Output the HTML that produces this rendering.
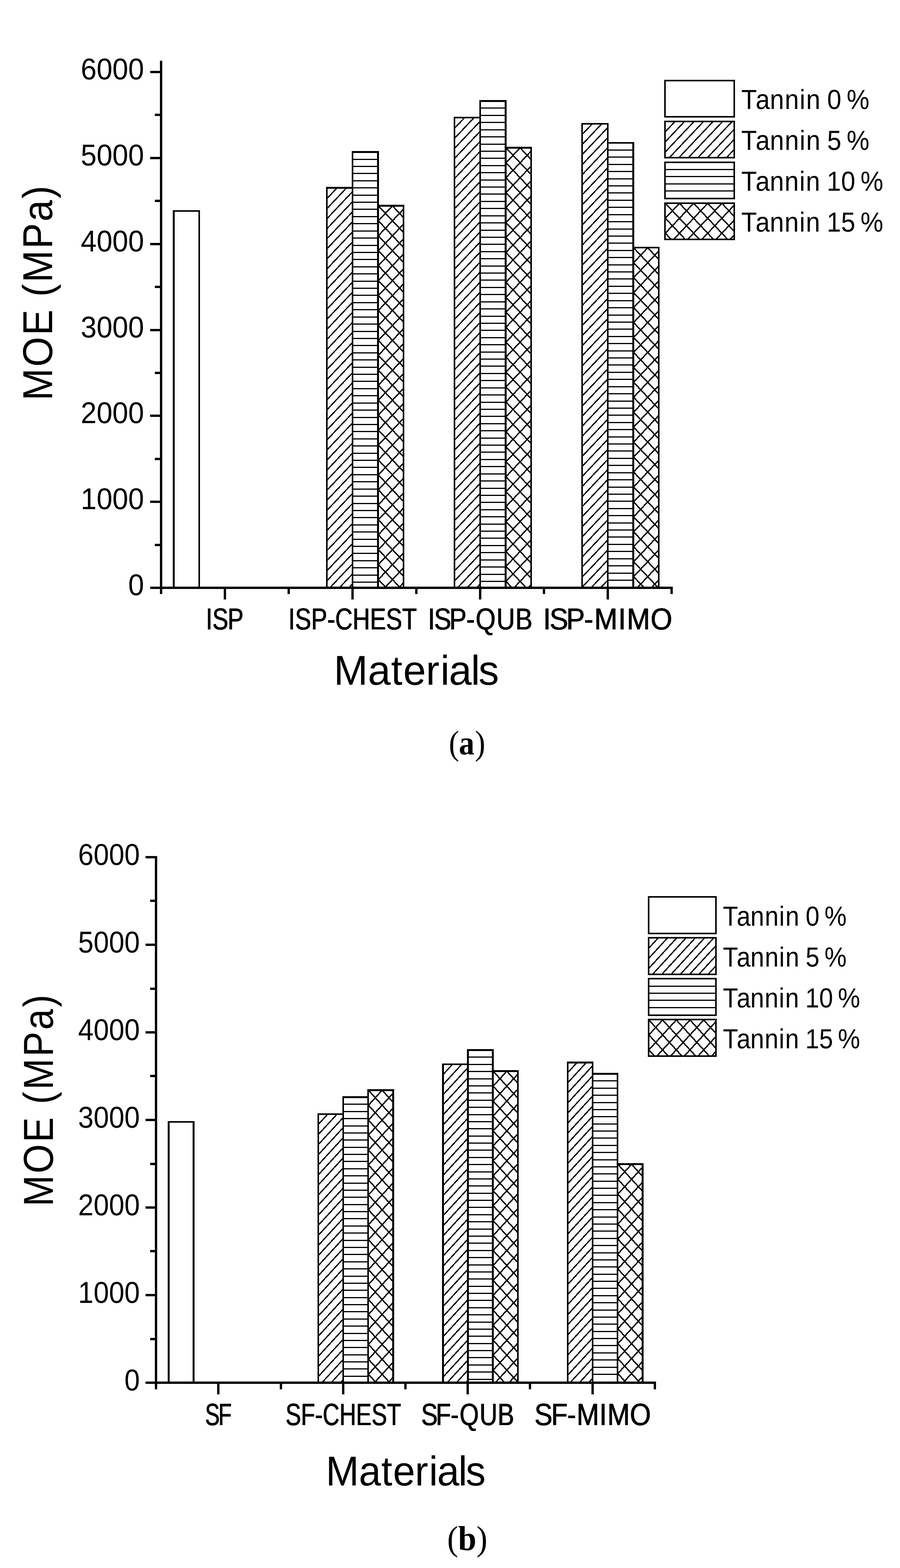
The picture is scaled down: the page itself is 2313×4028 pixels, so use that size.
<!DOCTYPE html>
<html lang="en">
<head>
<meta charset="utf-8">
<title>MOE of tannin-modified adhesives</title>
<style>
html,body{margin:0;padding:0;background:#fff}
svg{display:block}
text{white-space:pre}
</style>
</head>
<body>
<svg width="2313" height="4028" viewBox="0 0 2313 4028" text-rendering="geometricPrecision">
<rect width="2313" height="4028" fill="#fff"/>
<g fill="none" stroke="#000" stroke-linejoin="miter" shape-rendering="crispEdges">
<rect x="446.6" y="541.9" width="65.6" height="968.1" stroke-width="4.5"/>
<path d="M840.2 484.29L841.7 482.7M840.2 510.13L866.15 482.7M840.2 535.97L890.6 482.7M840.2 561.81L905.8 492.48M840.2 587.65L905.8 518.32M840.2 613.49L905.8 544.16M840.2 639.33L905.8 570M840.2 665.17L905.8 595.84M840.2 691.01L905.8 621.68M840.2 716.85L905.8 647.52M840.2 742.69L905.8 673.36M840.2 768.53L905.8 699.2M840.2 794.37L905.8 725.04M840.2 820.21L905.8 750.88M840.2 846.05L905.8 776.72M840.2 871.89L905.8 802.56M840.2 897.73L905.8 828.4M840.2 923.57L905.8 854.24M840.2 949.41L905.8 880.08M840.2 975.25L905.8 905.92M840.2 1001.09L905.8 931.76M840.2 1026.93L905.8 957.6M840.2 1052.77L905.8 983.44M840.2 1078.61L905.8 1009.28M840.2 1104.45L905.8 1035.12M840.2 1130.29L905.8 1060.96M840.2 1156.13L905.8 1086.8M840.2 1181.97L905.8 1112.64M840.2 1207.81L905.8 1138.48M840.2 1233.65L905.8 1164.32M840.2 1259.49L905.8 1190.16M840.2 1285.33L905.8 1216M840.2 1311.17L905.8 1241.84M840.2 1337.01L905.8 1267.68M840.2 1362.85L905.8 1293.52M840.2 1388.69L905.8 1319.36M840.2 1414.53L905.8 1345.2M840.2 1440.37L905.8 1371.04M840.2 1466.21L905.8 1396.88M840.2 1492.05L905.8 1422.72M847.66 1510L905.8 1448.56M872.11 1510L905.8 1474.4M896.56 1510L905.8 1500.24" stroke-width="3.3"/>
<rect x="840.2" y="482.7" width="65.6" height="1027.3" stroke-width="4.5"/>
<path d="M905.8 409.02L971.4 409.02M905.8 427.43L971.4 427.43M905.8 445.85L971.4 445.85M905.8 464.27L971.4 464.27M905.8 482.69L971.4 482.69M905.8 501.1L971.4 501.1M905.8 519.52L971.4 519.52M905.8 537.94L971.4 537.94M905.8 556.35L971.4 556.35M905.8 574.77L971.4 574.77M905.8 593.19L971.4 593.19M905.8 611.6L971.4 611.6M905.8 630.02L971.4 630.02M905.8 648.44L971.4 648.44M905.8 666.86L971.4 666.86M905.8 685.27L971.4 685.27M905.8 703.69L971.4 703.69M905.8 722.11L971.4 722.11M905.8 740.52L971.4 740.52M905.8 758.94L971.4 758.94M905.8 777.36L971.4 777.36M905.8 795.77L971.4 795.77M905.8 814.19L971.4 814.19M905.8 832.61L971.4 832.61M905.8 851.03L971.4 851.03M905.8 869.44L971.4 869.44M905.8 887.86L971.4 887.86M905.8 906.28L971.4 906.28M905.8 924.69L971.4 924.69M905.8 943.11L971.4 943.11M905.8 961.53L971.4 961.53M905.8 979.94L971.4 979.94M905.8 998.36L971.4 998.36M905.8 1016.78L971.4 1016.78M905.8 1035.2L971.4 1035.2M905.8 1053.61L971.4 1053.61M905.8 1072.03L971.4 1072.03M905.8 1090.45L971.4 1090.45M905.8 1108.86L971.4 1108.86M905.8 1127.28L971.4 1127.28M905.8 1145.7L971.4 1145.7M905.8 1164.11L971.4 1164.11M905.8 1182.53L971.4 1182.53M905.8 1200.95L971.4 1200.95M905.8 1219.37L971.4 1219.37M905.8 1237.78L971.4 1237.78M905.8 1256.2L971.4 1256.2M905.8 1274.62L971.4 1274.62M905.8 1293.03L971.4 1293.03M905.8 1311.45L971.4 1311.45M905.8 1329.87L971.4 1329.87M905.8 1348.28L971.4 1348.28M905.8 1366.7L971.4 1366.7M905.8 1385.12L971.4 1385.12M905.8 1403.53L971.4 1403.53M905.8 1421.95L971.4 1421.95M905.8 1440.37L971.4 1440.37M905.8 1458.79L971.4 1458.79M905.8 1477.2L971.4 1477.2M905.8 1495.62L971.4 1495.62" stroke-width="3"/>
<rect x="905.8" y="390.7" width="65.6" height="1119.3" stroke-width="4.5"/>
<path d="M971.4 1487.8L992.39 1510M971.4 1449.4L1028.69 1510M971.4 1411L1037 1480.39M971.4 1372.6L1037 1441.99M971.4 1334.2L1037 1403.59M971.4 1295.8L1037 1365.19M971.4 1257.4L1037 1326.79M971.4 1219L1037 1288.39M971.4 1180.6L1037 1249.99M971.4 1142.2L1037 1211.59M971.4 1103.8L1037 1173.19M971.4 1065.4L1037 1134.79M971.4 1027L1037 1096.39M971.4 988.6L1037 1057.99M971.4 950.2L1037 1019.59M971.4 911.8L1037 981.19M971.4 873.4L1037 942.79M971.4 835L1037 904.39M971.4 796.6L1037 865.99M971.4 758.2L1037 827.59M971.4 719.8L1037 789.19M971.4 681.4L1037 750.79M971.4 643L1037 712.39M971.4 604.6L1037 673.99M971.4 566.2L1037 635.59M971.4 529.8L972.63 528.5M972.07 528.5L1037 597.19M971.4 568.2L1008.93 528.5M1008.37 528.5L1037 558.79M971.4 606.6L1037 537.21M971.4 645L1037 575.61M971.4 683.4L1037 614.01M971.4 721.8L1037 652.41M971.4 760.2L1037 690.81M971.4 798.6L1037 729.21M971.4 837L1037 767.61M971.4 875.4L1037 806.01M971.4 913.8L1037 844.41M971.4 952.2L1037 882.81M971.4 990.6L1037 921.21M971.4 1029L1037 959.61M971.4 1067.4L1037 998.01M971.4 1105.8L1037 1036.41M971.4 1144.2L1037 1074.81M971.4 1182.6L1037 1113.21M971.4 1221L1037 1151.61M971.4 1259.4L1037 1190.01M971.4 1297.8L1037 1228.41M971.4 1336.2L1037 1266.81M971.4 1374.6L1037 1305.21M971.4 1413L1037 1343.61M971.4 1451.4L1037 1382.01M971.4 1489.8L1037 1420.41M988.61 1510L1037 1458.81M1024.91 1510L1037 1497.21" stroke-width="3.5"/>
<rect x="971.4" y="528.5" width="65.6" height="981.5" stroke-width="4.5"/>
<path d="M1168.2 303.59L1169.7 302M1168.2 329.43L1194.15 302M1168.2 355.27L1218.6 302M1168.2 381.11L1233.8 311.78M1168.2 406.95L1233.8 337.62M1168.2 432.79L1233.8 363.46M1168.2 458.63L1233.8 389.3M1168.2 484.47L1233.8 415.14M1168.2 510.31L1233.8 440.98M1168.2 536.15L1233.8 466.82M1168.2 561.99L1233.8 492.66M1168.2 587.83L1233.8 518.5M1168.2 613.67L1233.8 544.34M1168.2 639.51L1233.8 570.18M1168.2 665.35L1233.8 596.02M1168.2 691.19L1233.8 621.86M1168.2 717.03L1233.8 647.7M1168.2 742.87L1233.8 673.54M1168.2 768.71L1233.8 699.38M1168.2 794.55L1233.8 725.22M1168.2 820.39L1233.8 751.06M1168.2 846.23L1233.8 776.9M1168.2 872.07L1233.8 802.74M1168.2 897.91L1233.8 828.58M1168.2 923.75L1233.8 854.42M1168.2 949.59L1233.8 880.26M1168.2 975.43L1233.8 906.1M1168.2 1001.27L1233.8 931.94M1168.2 1027.11L1233.8 957.78M1168.2 1052.95L1233.8 983.62M1168.2 1078.79L1233.8 1009.46M1168.2 1104.63L1233.8 1035.3M1168.2 1130.47L1233.8 1061.14M1168.2 1156.31L1233.8 1086.98M1168.2 1182.15L1233.8 1112.82M1168.2 1207.99L1233.8 1138.66M1168.2 1233.83L1233.8 1164.5M1168.2 1259.67L1233.8 1190.34M1168.2 1285.51L1233.8 1216.18M1168.2 1311.35L1233.8 1242.02M1168.2 1337.19L1233.8 1267.86M1168.2 1363.03L1233.8 1293.7M1168.2 1388.87L1233.8 1319.54M1168.2 1414.71L1233.8 1345.38M1168.2 1440.55L1233.8 1371.22M1168.2 1466.39L1233.8 1397.06M1168.2 1492.23L1233.8 1422.9M1175.83 1510L1233.8 1448.74M1200.28 1510L1233.8 1474.58M1224.73 1510L1233.8 1500.42" stroke-width="3.3"/>
<rect x="1168.2" y="302" width="65.6" height="1208" stroke-width="4.5"/>
<path d="M1233.8 277.92L1299.4 277.92M1233.8 296.33L1299.4 296.33M1233.8 314.75L1299.4 314.75M1233.8 333.17L1299.4 333.17M1233.8 351.59L1299.4 351.59M1233.8 370L1299.4 370M1233.8 388.42L1299.4 388.42M1233.8 406.84L1299.4 406.84M1233.8 425.25L1299.4 425.25M1233.8 443.67L1299.4 443.67M1233.8 462.09L1299.4 462.09M1233.8 480.5L1299.4 480.5M1233.8 498.92L1299.4 498.92M1233.8 517.34L1299.4 517.34M1233.8 535.76L1299.4 535.76M1233.8 554.17L1299.4 554.17M1233.8 572.59L1299.4 572.59M1233.8 591.01L1299.4 591.01M1233.8 609.42L1299.4 609.42M1233.8 627.84L1299.4 627.84M1233.8 646.26L1299.4 646.26M1233.8 664.67L1299.4 664.67M1233.8 683.09L1299.4 683.09M1233.8 701.51L1299.4 701.51M1233.8 719.93L1299.4 719.93M1233.8 738.34L1299.4 738.34M1233.8 756.76L1299.4 756.76M1233.8 775.18L1299.4 775.18M1233.8 793.59L1299.4 793.59M1233.8 812.01L1299.4 812.01M1233.8 830.43L1299.4 830.43M1233.8 848.84L1299.4 848.84M1233.8 867.26L1299.4 867.26M1233.8 885.68L1299.4 885.68M1233.8 904.1L1299.4 904.1M1233.8 922.51L1299.4 922.51M1233.8 940.93L1299.4 940.93M1233.8 959.35L1299.4 959.35M1233.8 977.76L1299.4 977.76M1233.8 996.18L1299.4 996.18M1233.8 1014.6L1299.4 1014.6M1233.8 1033.01L1299.4 1033.01M1233.8 1051.43L1299.4 1051.43M1233.8 1069.85L1299.4 1069.85M1233.8 1088.27L1299.4 1088.27M1233.8 1106.68L1299.4 1106.68M1233.8 1125.1L1299.4 1125.1M1233.8 1143.52L1299.4 1143.52M1233.8 1161.93L1299.4 1161.93M1233.8 1180.35L1299.4 1180.35M1233.8 1198.77L1299.4 1198.77M1233.8 1217.18L1299.4 1217.18M1233.8 1235.6L1299.4 1235.6M1233.8 1254.02L1299.4 1254.02M1233.8 1272.44L1299.4 1272.44M1233.8 1290.85L1299.4 1290.85M1233.8 1309.27L1299.4 1309.27M1233.8 1327.69L1299.4 1327.69M1233.8 1346.1L1299.4 1346.1M1233.8 1364.52L1299.4 1364.52M1233.8 1382.94L1299.4 1382.94M1233.8 1401.35L1299.4 1401.35M1233.8 1419.77L1299.4 1419.77M1233.8 1438.19L1299.4 1438.19M1233.8 1456.6L1299.4 1456.6M1233.8 1475.02L1299.4 1475.02M1233.8 1493.44L1299.4 1493.44" stroke-width="3"/>
<rect x="1233.8" y="259.6" width="65.6" height="1250.4" stroke-width="4.5"/>
<path d="M1299.4 1492.4L1316.04 1510M1299.4 1454L1352.34 1510M1299.4 1415.6L1365 1484.99M1299.4 1377.2L1365 1446.59M1299.4 1338.8L1365 1408.19M1299.4 1300.4L1365 1369.79M1299.4 1262L1365 1331.39M1299.4 1223.6L1365 1292.99M1299.4 1185.2L1365 1254.59M1299.4 1146.8L1365 1216.19M1299.4 1108.4L1365 1177.79M1299.4 1070L1365 1139.39M1299.4 1031.6L1365 1100.99M1299.4 993.2L1365 1062.59M1299.4 954.8L1365 1024.19M1299.4 916.4L1365 985.79M1299.4 878L1365 947.39M1299.4 839.6L1365 908.99M1299.4 801.2L1365 870.59M1299.4 762.8L1365 832.19M1299.4 724.4L1365 793.79M1299.4 686L1365 755.39M1299.4 647.6L1365 716.99M1299.4 609.2L1365 678.59M1299.4 570.8L1365 640.19M1299.4 532.4L1365 601.79M1299.4 494L1365 563.39M1299.4 455.6L1365 524.99M1299.4 417.2L1365 486.59M1299.4 380.8L1300.63 379.5M1300.07 379.5L1365 448.19M1299.4 419.2L1336.93 379.5M1336.37 379.5L1365 409.79M1299.4 457.6L1365 388.21M1299.4 496L1365 426.61M1299.4 534.4L1365 465.01M1299.4 572.8L1365 503.41M1299.4 611.2L1365 541.81M1299.4 649.6L1365 580.21M1299.4 688L1365 618.61M1299.4 726.4L1365 657.01M1299.4 764.8L1365 695.41M1299.4 803.2L1365 733.81M1299.4 841.6L1365 772.21M1299.4 880L1365 810.61M1299.4 918.4L1365 849.01M1299.4 956.8L1365 887.41M1299.4 995.2L1365 925.81M1299.4 1033.6L1365 964.21M1299.4 1072L1365 1002.61M1299.4 1110.4L1365 1041.01M1299.4 1148.8L1365 1079.41M1299.4 1187.2L1365 1117.81M1299.4 1225.6L1365 1156.21M1299.4 1264L1365 1194.61M1299.4 1302.4L1365 1233.01M1299.4 1340.8L1365 1271.41M1299.4 1379.2L1365 1309.81M1299.4 1417.6L1365 1348.21M1299.4 1456L1365 1386.61M1299.4 1494.4L1365 1425.01M1320.96 1510L1365 1463.41M1357.26 1510L1365 1501.81" stroke-width="3.5"/>
<rect x="1299.4" y="379.5" width="65.6" height="1130.5" stroke-width="4.5"/>
<path d="M1496.2 319.59L1497.7 318M1496.2 345.43L1522.15 318M1496.2 371.27L1546.6 318M1496.2 397.11L1561.8 327.78M1496.2 422.95L1561.8 353.62M1496.2 448.79L1561.8 379.46M1496.2 474.63L1561.8 405.3M1496.2 500.47L1561.8 431.14M1496.2 526.31L1561.8 456.98M1496.2 552.15L1561.8 482.82M1496.2 577.99L1561.8 508.66M1496.2 603.83L1561.8 534.5M1496.2 629.67L1561.8 560.34M1496.2 655.51L1561.8 586.18M1496.2 681.35L1561.8 612.02M1496.2 707.19L1561.8 637.86M1496.2 733.03L1561.8 663.7M1496.2 758.87L1561.8 689.54M1496.2 784.71L1561.8 715.38M1496.2 810.55L1561.8 741.22M1496.2 836.39L1561.8 767.06M1496.2 862.23L1561.8 792.9M1496.2 888.07L1561.8 818.74M1496.2 913.91L1561.8 844.58M1496.2 939.75L1561.8 870.42M1496.2 965.59L1561.8 896.26M1496.2 991.43L1561.8 922.1M1496.2 1017.27L1561.8 947.94M1496.2 1043.11L1561.8 973.78M1496.2 1068.95L1561.8 999.62M1496.2 1094.79L1561.8 1025.46M1496.2 1120.63L1561.8 1051.3M1496.2 1146.47L1561.8 1077.14M1496.2 1172.31L1561.8 1102.98M1496.2 1198.15L1561.8 1128.82M1496.2 1223.99L1561.8 1154.66M1496.2 1249.83L1561.8 1180.5M1496.2 1275.67L1561.8 1206.34M1496.2 1301.51L1561.8 1232.18M1496.2 1327.35L1561.8 1258.02M1496.2 1353.19L1561.8 1283.86M1496.2 1379.03L1561.8 1309.7M1496.2 1404.87L1561.8 1335.54M1496.2 1430.71L1561.8 1361.38M1496.2 1456.55L1561.8 1387.22M1496.2 1482.39L1561.8 1413.06M1496.2 1508.23L1561.8 1438.9M1518.97 1510L1561.8 1464.74M1543.42 1510L1561.8 1490.58" stroke-width="3.3"/>
<rect x="1496.2" y="318" width="65.6" height="1192" stroke-width="4.5"/>
<path d="M1561.8 385.42L1627.4 385.42M1561.8 403.83L1627.4 403.83M1561.8 422.25L1627.4 422.25M1561.8 440.67L1627.4 440.67M1561.8 459.09L1627.4 459.09M1561.8 477.5L1627.4 477.5M1561.8 495.92L1627.4 495.92M1561.8 514.34L1627.4 514.34M1561.8 532.75L1627.4 532.75M1561.8 551.17L1627.4 551.17M1561.8 569.59L1627.4 569.59M1561.8 588L1627.4 588M1561.8 606.42L1627.4 606.42M1561.8 624.84L1627.4 624.84M1561.8 643.26L1627.4 643.26M1561.8 661.67L1627.4 661.67M1561.8 680.09L1627.4 680.09M1561.8 698.51L1627.4 698.51M1561.8 716.92L1627.4 716.92M1561.8 735.34L1627.4 735.34M1561.8 753.76L1627.4 753.76M1561.8 772.17L1627.4 772.17M1561.8 790.59L1627.4 790.59M1561.8 809.01L1627.4 809.01M1561.8 827.43L1627.4 827.43M1561.8 845.84L1627.4 845.84M1561.8 864.26L1627.4 864.26M1561.8 882.68L1627.4 882.68M1561.8 901.09L1627.4 901.09M1561.8 919.51L1627.4 919.51M1561.8 937.93L1627.4 937.93M1561.8 956.34L1627.4 956.34M1561.8 974.76L1627.4 974.76M1561.8 993.18L1627.4 993.18M1561.8 1011.6L1627.4 1011.6M1561.8 1030.01L1627.4 1030.01M1561.8 1048.43L1627.4 1048.43M1561.8 1066.85L1627.4 1066.85M1561.8 1085.26L1627.4 1085.26M1561.8 1103.68L1627.4 1103.68M1561.8 1122.1L1627.4 1122.1M1561.8 1140.51L1627.4 1140.51M1561.8 1158.93L1627.4 1158.93M1561.8 1177.35L1627.4 1177.35M1561.8 1195.77L1627.4 1195.77M1561.8 1214.18L1627.4 1214.18M1561.8 1232.6L1627.4 1232.6M1561.8 1251.02L1627.4 1251.02M1561.8 1269.43L1627.4 1269.43M1561.8 1287.85L1627.4 1287.85M1561.8 1306.27L1627.4 1306.27M1561.8 1324.68L1627.4 1324.68M1561.8 1343.1L1627.4 1343.1M1561.8 1361.52L1627.4 1361.52M1561.8 1379.93L1627.4 1379.93M1561.8 1398.35L1627.4 1398.35M1561.8 1416.77L1627.4 1416.77M1561.8 1435.19L1627.4 1435.19M1561.8 1453.6L1627.4 1453.6M1561.8 1472.02L1627.4 1472.02M1561.8 1490.44L1627.4 1490.44" stroke-width="3"/>
<rect x="1561.8" y="367.1" width="65.6" height="1142.9" stroke-width="4.5"/>
<path d="M1627.4 1480.3L1655.48 1510M1627.4 1441.9L1691.78 1510M1627.4 1403.5L1693 1472.89M1627.4 1365.1L1693 1434.49M1627.4 1326.7L1693 1396.09M1627.4 1288.3L1693 1357.69M1627.4 1249.9L1693 1319.29M1627.4 1211.5L1693 1280.89M1627.4 1173.1L1693 1242.49M1627.4 1134.7L1693 1204.09M1627.4 1096.3L1693 1165.69M1627.4 1057.9L1693 1127.29M1627.4 1019.5L1693 1088.89M1627.4 981.1L1693 1050.49M1627.4 942.7L1693 1012.09M1627.4 904.3L1693 973.69M1627.4 865.9L1693 935.29M1627.4 827.5L1693 896.89M1627.4 789.1L1693 858.49M1627.4 750.7L1693 820.09M1627.4 712.3L1693 781.69M1627.4 673.9L1693 743.29M1627.4 637.5L1628.63 636.2M1628.07 636.2L1693 704.89M1627.4 675.9L1664.93 636.2M1664.37 636.2L1693 666.49M1627.4 714.3L1693 644.91M1627.4 752.7L1693 683.31M1627.4 791.1L1693 721.71M1627.4 829.5L1693 760.11M1627.4 867.9L1693 798.51M1627.4 906.3L1693 836.91M1627.4 944.7L1693 875.31M1627.4 983.1L1693 913.71M1627.4 1021.5L1693 952.11M1627.4 1059.9L1693 990.51M1627.4 1098.3L1693 1028.91M1627.4 1136.7L1693 1067.31M1627.4 1175.1L1693 1105.71M1627.4 1213.5L1693 1144.11M1627.4 1251.9L1693 1182.51M1627.4 1290.3L1693 1220.91M1627.4 1328.7L1693 1259.31M1627.4 1367.1L1693 1297.71M1627.4 1405.5L1693 1336.11M1627.4 1443.9L1693 1374.51M1627.4 1482.3L1693 1412.91M1637.52 1510L1693 1451.31M1673.82 1510L1693 1489.71" stroke-width="3.5"/>
<rect x="1627.4" y="636.2" width="65.6" height="873.8" stroke-width="4.5"/>
<rect x="1709" y="207" width="178" height="93" stroke-width="4"/>
<path d="M1709 313.59L1710.5 312M1709 339.43L1734.95 312M1709 365.27L1759.4 312M1709 391.11L1783.85 312M1720.3 405L1808.3 312M1744.75 405L1832.75 312M1769.2 405L1857.2 312M1793.65 405L1881.65 312M1818.1 405L1887 332.19M1842.55 405L1887 358.03M1867 405L1887 383.87" stroke-width="3.3"/>
<rect x="1709" y="312" width="178" height="93" stroke-width="4"/>
<path d="M1709 435.32L1887 435.32M1709 453.73L1887 453.73M1709 472.15L1887 472.15M1709 490.57L1887 490.57" stroke-width="3"/>
<rect x="1709" y="417" width="178" height="93" stroke-width="4"/>
<path d="M1709 598.1L1724.98 615M1709 559.7L1761.28 615M1709 523.3L1710.23 522M1709.67 522L1797.58 615M1709 561.7L1746.53 522M1745.97 522L1833.88 615M1709 600.1L1782.83 522M1782.27 522L1870.18 615M1731.22 615L1819.13 522M1818.57 522L1887 594.39M1767.52 615L1855.43 522M1854.87 522L1887 555.99M1803.82 615L1887 527.01M1840.12 615L1887 565.41M1876.42 615L1887 603.81" stroke-width="3.5"/>
<rect x="1709" y="522" width="178" height="93" stroke-width="4"/>
</g>
<g stroke="#000" stroke-width="6" fill="none" stroke-linecap="butt" shape-rendering="crispEdges">
<path d="M414 156.4V1525.5M386 1510H1729.4M398.4 1400H414M386 1289H414M398.4 1179H414M386 1068H414M398.4 958H414M386 848H414M398.4 737H414M386 627H414M398.4 516H414M386 406H414M398.4 295H414M386 185H414M578 1510V1539.7M742 1510V1525.5M906 1510V1539.7M1070 1510V1525.5M1234 1510V1539.7M1398 1510V1525.5M1562 1510V1539.7M1726 1510V1525.5"/>
</g>
<g fill="#000" font-family='&quot;Liberation Sans&quot;, &quot;DejaVu Sans&quot;, sans-serif'>
<text transform="translate(0 1528.8) scale(0.9443 1)" font-size="77.5" x="348.98">0</text>
<text transform="translate(0 1307.8) scale(0.9443 1)" font-size="77.5" x="219.67 262.77 305.88 348.98">1000</text>
<text transform="translate(0 1086.8) scale(0.9443 1)" font-size="77.5" x="219.67 262.77 305.88 348.98">2000</text>
<text transform="translate(0 866.8) scale(0.9443 1)" font-size="77.5" x="219.67 262.77 305.88 348.98">3000</text>
<text transform="translate(0 645.8) scale(0.9443 1)" font-size="77.5" x="219.67 262.77 305.88 348.98">4000</text>
<text transform="translate(0 424.8) scale(0.9443 1)" font-size="77.5" x="219.67 262.77 305.88 348.98">5000</text>
<text transform="translate(0 203.8) scale(0.9443 1)" font-size="77.5" x="219.67 262.77 305.88 348.98">6000</text>
<text transform="translate(0 1616.5) scale(0.7854 1)" font-size="77.9" style="filter:drop-shadow(0.51px 0 0 #000) drop-shadow(-0.51px 0 0 #000)" x="674.11 695.36 745.34">ISP</text>
<text transform="translate(0 1616.5) scale(0.7973 1)" font-size="77.9" style="filter:drop-shadow(0.5px 0 0 #000) drop-shadow(-0.5px 0 0 #000)" x="930.12 951.67 1003.4 1055.14 1080.97 1136.98 1193 1244.73 1296.47">ISP-CHEST</text>
<text transform="translate(0 1616.5) scale(0.8505 1)" font-size="77.9" style="filter:drop-shadow(0.47px 0 0 #000) drop-shadow(-0.47px 0 0 #000)" x="1293.39 1312.04 1358.38 1409.56 1437.64 1500.47 1557.54">ISP-QUB</text>
<text transform="translate(0 1616.5) scale(0.9185 1)" font-size="77.9" style="filter:drop-shadow(0.44px 0 0 #000) drop-shadow(-0.44px 0 0 #000)" x="1520.16 1538.49 1584.88 1634.71 1663.31 1730.37 1754.59 1820.8">ISP-MIMO</text>
<text transform="translate(0 280) scale(0.9244 1)" font-size="71" x="2060.71 2100.71 2140.29 2181.7 2223.12 2241.2 2281.34 2299.7 2339.11 2354.02">Tannin 0 %</text>
<text transform="translate(0 385) scale(0.9244 1)" font-size="71" x="2060.71 2100.71 2140.29 2181.7 2223.12 2241.2 2281.34 2299.7 2339.11 2354.02">Tannin 5 %</text>
<text transform="translate(0 490) scale(0.9272 1)" font-size="71" x="2054.49 2094.19 2133.48 2174.58 2215.73 2233.64 2273.54 2291.7 2331.35 2370.53 2385.23">Tannin 10 %</text>
<text transform="translate(0 595) scale(0.9272 1)" font-size="71" x="2054.49 2094.19 2133.48 2174.58 2215.73 2233.64 2273.54 2291.7 2331.35 2370.53 2385.23">Tannin 15 %</text>
<text transform="translate(0 1758.6) scale(0.9821 1)" font-size="107.1" x="873.27 962.79 1023.23 1055.12 1114.44 1152.75 1174.73 1232.21 1252.25">Materials</text>
<text transform="translate(134 1020.7) rotate(-90) scale(0.9215 1)" font-size="107.5" x="-8.7 85.08 172.93 245.09 280.33 320.36 414.14 490.07 554.09">MOE (MPa)</text>
</g>
<text transform="translate(0 1938.2) scale(0.9100 1)" font-family='&quot;Liberation Serif&quot;, &quot;DejaVu Serif&quot;, serif' font-size="88" fill="#000" x="1267.69 1295.8 1341.24">(<tspan font-weight="bold">a</tspan>)</text>
<g fill="none" stroke="#000" stroke-linejoin="miter" shape-rendering="crispEdges">
<rect x="433.4" y="2882.1" width="64.1" height="669.9" stroke-width="4.5"/>
<path d="M818 2862.74L818.5 2862.2M818 2888.64L842.3 2862.2M818 2914.54L866.1 2862.2M818 2940.44L882.1 2870.69M818 2966.34L882.1 2896.59M818 2992.24L882.1 2922.49M818 3018.14L882.1 2948.39M818 3044.04L882.1 2974.29M818 3069.94L882.1 3000.19M818 3095.84L882.1 3026.09M818 3121.74L882.1 3051.99M818 3147.64L882.1 3077.89M818 3173.54L882.1 3103.79M818 3199.44L882.1 3129.69M818 3225.34L882.1 3155.59M818 3251.24L882.1 3181.49M818 3277.14L882.1 3207.39M818 3303.04L882.1 3233.29M818 3328.94L882.1 3259.19M818 3354.84L882.1 3285.09M818 3380.74L882.1 3310.99M818 3406.64L882.1 3336.89M818 3432.54L882.1 3362.79M818 3458.44L882.1 3388.69M818 3484.34L882.1 3414.59M818 3510.24L882.1 3440.49M818 3536.14L882.1 3466.39M827.23 3552L882.1 3492.29M851.03 3552L882.1 3518.19M874.83 3552L882.1 3544.09" stroke-width="3.3"/>
<rect x="818" y="2862.2" width="64.1" height="689.8" stroke-width="4.5"/>
<path d="M882.1 2836.88L946.2 2836.88M882.1 2855.26L946.2 2855.26M882.1 2873.64L946.2 2873.64M882.1 2892.02L946.2 2892.02M882.1 2910.4L946.2 2910.4M882.1 2928.78L946.2 2928.78M882.1 2947.16L946.2 2947.16M882.1 2965.54L946.2 2965.54M882.1 2983.92L946.2 2983.92M882.1 3002.3L946.2 3002.3M882.1 3020.68L946.2 3020.68M882.1 3039.06L946.2 3039.06M882.1 3057.44L946.2 3057.44M882.1 3075.82L946.2 3075.82M882.1 3094.2L946.2 3094.2M882.1 3112.58L946.2 3112.58M882.1 3130.96L946.2 3130.96M882.1 3149.34L946.2 3149.34M882.1 3167.72L946.2 3167.72M882.1 3186.1L946.2 3186.1M882.1 3204.48L946.2 3204.48M882.1 3222.86L946.2 3222.86M882.1 3241.24L946.2 3241.24M882.1 3259.62L946.2 3259.62M882.1 3278L946.2 3278M882.1 3296.38L946.2 3296.38M882.1 3314.76L946.2 3314.76M882.1 3333.14L946.2 3333.14M882.1 3351.52L946.2 3351.52M882.1 3369.9L946.2 3369.9M882.1 3388.28L946.2 3388.28M882.1 3406.66L946.2 3406.66M882.1 3425.04L946.2 3425.04M882.1 3443.42L946.2 3443.42M882.1 3461.8L946.2 3461.8M882.1 3480.18L946.2 3480.18M882.1 3498.56L946.2 3498.56M882.1 3516.94L946.2 3516.94M882.1 3535.32L946.2 3535.32" stroke-width="3"/>
<rect x="882.1" y="2818.6" width="64.1" height="733.4" stroke-width="4.5"/>
<path d="M946.2 3529.59L966.74 3552M946.2 3491.19L1001.94 3552M946.2 3452.79L1010.3 3522.72M946.2 3414.39L1010.3 3484.32M946.2 3375.99L1010.3 3445.92M946.2 3337.59L1010.3 3407.52M946.2 3299.19L1010.3 3369.12M946.2 3260.79L1010.3 3330.72M946.2 3222.39L1010.3 3292.32M946.2 3183.99L1010.3 3253.92M946.2 3145.59L1010.3 3215.52M946.2 3107.19L1010.3 3177.12M946.2 3068.79L1010.3 3138.72M946.2 3030.39L1010.3 3100.32M946.2 2991.99L1010.3 3061.92M946.2 2953.59L1010.3 3023.52M946.2 2915.19L1010.3 2985.12M946.2 2876.79L1010.3 2946.72M946.2 2838.39L1010.3 2908.32M946.2 2801.41L947.22 2800.3M946.48 2800.3L1010.3 2869.92M946.2 2839.81L982.42 2800.3M981.68 2800.3L1010.3 2831.52M946.2 2878.21L1010.3 2808.28M946.2 2916.61L1010.3 2846.68M946.2 2955.01L1010.3 2885.08M946.2 2993.41L1010.3 2923.48M946.2 3031.81L1010.3 2961.88M946.2 3070.21L1010.3 3000.28M946.2 3108.61L1010.3 3038.68M946.2 3147.01L1010.3 3077.08M946.2 3185.41L1010.3 3115.48M946.2 3223.81L1010.3 3153.88M946.2 3262.21L1010.3 3192.28M946.2 3300.61L1010.3 3230.68M946.2 3339.01L1010.3 3269.08M946.2 3377.41L1010.3 3307.48M946.2 3415.81L1010.3 3345.88M946.2 3454.21L1010.3 3384.28M946.2 3492.61L1010.3 3422.68M946.2 3531.01L1010.3 3461.08M962.16 3552L1010.3 3499.48M997.36 3552L1010.3 3537.88" stroke-width="3.5"/>
<rect x="946.2" y="2800.3" width="64.1" height="751.7" stroke-width="4.5"/>
<path d="M1138.5 2734.74L1139 2734.2M1138.5 2760.64L1162.8 2734.2M1138.5 2786.54L1186.6 2734.2M1138.5 2812.44L1202.6 2742.69M1138.5 2838.34L1202.6 2768.59M1138.5 2864.24L1202.6 2794.49M1138.5 2890.14L1202.6 2820.39M1138.5 2916.04L1202.6 2846.29M1138.5 2941.94L1202.6 2872.19M1138.5 2967.84L1202.6 2898.09M1138.5 2993.74L1202.6 2923.99M1138.5 3019.64L1202.6 2949.89M1138.5 3045.54L1202.6 2975.79M1138.5 3071.44L1202.6 3001.69M1138.5 3097.34L1202.6 3027.59M1138.5 3123.24L1202.6 3053.49M1138.5 3149.14L1202.6 3079.39M1138.5 3175.04L1202.6 3105.29M1138.5 3200.94L1202.6 3131.19M1138.5 3226.84L1202.6 3157.09M1138.5 3252.74L1202.6 3182.99M1138.5 3278.64L1202.6 3208.89M1138.5 3304.54L1202.6 3234.79M1138.5 3330.44L1202.6 3260.69M1138.5 3356.34L1202.6 3286.59M1138.5 3382.24L1202.6 3312.49M1138.5 3408.14L1202.6 3338.39M1138.5 3434.04L1202.6 3364.29M1138.5 3459.94L1202.6 3390.19M1138.5 3485.84L1202.6 3416.09M1138.5 3511.74L1202.6 3441.99M1138.5 3537.64L1202.6 3467.89M1149.11 3552L1202.6 3493.79M1172.91 3552L1202.6 3519.69M1196.71 3552L1202.6 3545.59" stroke-width="3.3"/>
<rect x="1138.5" y="2734.2" width="64.1" height="817.8" stroke-width="4.5"/>
<path d="M1202.6 2715.98L1266.7 2715.98M1202.6 2734.36L1266.7 2734.36M1202.6 2752.74L1266.7 2752.74M1202.6 2771.12L1266.7 2771.12M1202.6 2789.5L1266.7 2789.5M1202.6 2807.88L1266.7 2807.88M1202.6 2826.26L1266.7 2826.26M1202.6 2844.64L1266.7 2844.64M1202.6 2863.02L1266.7 2863.02M1202.6 2881.4L1266.7 2881.4M1202.6 2899.78L1266.7 2899.78M1202.6 2918.16L1266.7 2918.16M1202.6 2936.54L1266.7 2936.54M1202.6 2954.92L1266.7 2954.92M1202.6 2973.3L1266.7 2973.3M1202.6 2991.68L1266.7 2991.68M1202.6 3010.06L1266.7 3010.06M1202.6 3028.44L1266.7 3028.44M1202.6 3046.82L1266.7 3046.82M1202.6 3065.2L1266.7 3065.2M1202.6 3083.58L1266.7 3083.58M1202.6 3101.96L1266.7 3101.96M1202.6 3120.34L1266.7 3120.34M1202.6 3138.72L1266.7 3138.72M1202.6 3157.1L1266.7 3157.1M1202.6 3175.48L1266.7 3175.48M1202.6 3193.86L1266.7 3193.86M1202.6 3212.24L1266.7 3212.24M1202.6 3230.62L1266.7 3230.62M1202.6 3249L1266.7 3249M1202.6 3267.38L1266.7 3267.38M1202.6 3285.76L1266.7 3285.76M1202.6 3304.14L1266.7 3304.14M1202.6 3322.52L1266.7 3322.52M1202.6 3340.9L1266.7 3340.9M1202.6 3359.28L1266.7 3359.28M1202.6 3377.66L1266.7 3377.66M1202.6 3396.04L1266.7 3396.04M1202.6 3414.42L1266.7 3414.42M1202.6 3432.8L1266.7 3432.8M1202.6 3451.18L1266.7 3451.18M1202.6 3469.56L1266.7 3469.56M1202.6 3487.94L1266.7 3487.94M1202.6 3506.32L1266.7 3506.32M1202.6 3524.7L1266.7 3524.7M1202.6 3543.08L1266.7 3543.08" stroke-width="3"/>
<rect x="1202.6" y="2697.7" width="64.1" height="854.3" stroke-width="4.5"/>
<path d="M1266.7 3518.99L1296.96 3552M1266.7 3480.59L1330.8 3550.52M1266.7 3442.19L1330.8 3512.12M1266.7 3403.79L1330.8 3473.72M1266.7 3365.39L1330.8 3435.32M1266.7 3326.99L1330.8 3396.92M1266.7 3288.59L1330.8 3358.52M1266.7 3250.19L1330.8 3320.12M1266.7 3211.79L1330.8 3281.72M1266.7 3173.39L1330.8 3243.32M1266.7 3134.99L1330.8 3204.92M1266.7 3096.59L1330.8 3166.52M1266.7 3058.19L1330.8 3128.12M1266.7 3019.79L1330.8 3089.72M1266.7 2981.39L1330.8 3051.32M1266.7 2942.99L1330.8 3012.92M1266.7 2904.59L1330.8 2974.52M1266.7 2866.19L1330.8 2936.12M1266.7 2827.79L1330.8 2897.72M1266.7 2789.39L1330.8 2859.32M1266.7 2752.41L1267.72 2751.3M1266.98 2751.3L1330.8 2820.92M1266.7 2790.81L1302.92 2751.3M1302.18 2751.3L1330.8 2782.52M1266.7 2829.21L1330.8 2759.28M1266.7 2867.61L1330.8 2797.68M1266.7 2906.01L1330.8 2836.08M1266.7 2944.41L1330.8 2874.48M1266.7 2982.81L1330.8 2912.88M1266.7 3021.21L1330.8 2951.28M1266.7 3059.61L1330.8 2989.68M1266.7 3098.01L1330.8 3028.08M1266.7 3136.41L1330.8 3066.48M1266.7 3174.81L1330.8 3104.88M1266.7 3213.21L1330.8 3143.28M1266.7 3251.61L1330.8 3181.68M1266.7 3290.01L1330.8 3220.08M1266.7 3328.41L1330.8 3258.48M1266.7 3366.81L1330.8 3296.88M1266.7 3405.21L1330.8 3335.28M1266.7 3443.61L1330.8 3373.68M1266.7 3482.01L1330.8 3412.08M1266.7 3520.41L1330.8 3450.48M1272.94 3552L1330.8 3488.88M1308.14 3552L1330.8 3527.28" stroke-width="3.5"/>
<rect x="1266.7" y="2751.3" width="64.1" height="800.7" stroke-width="4.5"/>
<path d="M1459 2729.84L1459.5 2729.3M1459 2755.74L1483.3 2729.3M1459 2781.64L1507.1 2729.3M1459 2807.54L1523.1 2737.79M1459 2833.44L1523.1 2763.69M1459 2859.34L1523.1 2789.59M1459 2885.24L1523.1 2815.49M1459 2911.14L1523.1 2841.39M1459 2937.04L1523.1 2867.29M1459 2962.94L1523.1 2893.19M1459 2988.84L1523.1 2919.09M1459 3014.74L1523.1 2944.99M1459 3040.64L1523.1 2970.89M1459 3066.54L1523.1 2996.79M1459 3092.44L1523.1 3022.69M1459 3118.34L1523.1 3048.59M1459 3144.24L1523.1 3074.49M1459 3170.14L1523.1 3100.39M1459 3196.04L1523.1 3126.29M1459 3221.94L1523.1 3152.19M1459 3247.84L1523.1 3178.09M1459 3273.74L1523.1 3203.99M1459 3299.64L1523.1 3229.89M1459 3325.54L1523.1 3255.79M1459 3351.44L1523.1 3281.69M1459 3377.34L1523.1 3307.59M1459 3403.24L1523.1 3333.49M1459 3429.14L1523.1 3359.39M1459 3455.04L1523.1 3385.29M1459 3480.94L1523.1 3411.19M1459 3506.84L1523.1 3437.09M1459 3532.74L1523.1 3462.99M1465.11 3552L1523.1 3488.89M1488.91 3552L1523.1 3514.79M1512.71 3552L1523.1 3540.69" stroke-width="3.3"/>
<rect x="1459" y="2729.3" width="64.1" height="822.7" stroke-width="4.5"/>
<path d="M1523.1 2776.88L1587.2 2776.88M1523.1 2795.26L1587.2 2795.26M1523.1 2813.64L1587.2 2813.64M1523.1 2832.02L1587.2 2832.02M1523.1 2850.4L1587.2 2850.4M1523.1 2868.78L1587.2 2868.78M1523.1 2887.16L1587.2 2887.16M1523.1 2905.54L1587.2 2905.54M1523.1 2923.92L1587.2 2923.92M1523.1 2942.3L1587.2 2942.3M1523.1 2960.68L1587.2 2960.68M1523.1 2979.06L1587.2 2979.06M1523.1 2997.44L1587.2 2997.44M1523.1 3015.82L1587.2 3015.82M1523.1 3034.2L1587.2 3034.2M1523.1 3052.58L1587.2 3052.58M1523.1 3070.96L1587.2 3070.96M1523.1 3089.34L1587.2 3089.34M1523.1 3107.72L1587.2 3107.72M1523.1 3126.1L1587.2 3126.1M1523.1 3144.48L1587.2 3144.48M1523.1 3162.86L1587.2 3162.86M1523.1 3181.24L1587.2 3181.24M1523.1 3199.62L1587.2 3199.62M1523.1 3218L1587.2 3218M1523.1 3236.38L1587.2 3236.38M1523.1 3254.76L1587.2 3254.76M1523.1 3273.14L1587.2 3273.14M1523.1 3291.52L1587.2 3291.52M1523.1 3309.9L1587.2 3309.9M1523.1 3328.28L1587.2 3328.28M1523.1 3346.66L1587.2 3346.66M1523.1 3365.04L1587.2 3365.04M1523.1 3383.42L1587.2 3383.42M1523.1 3401.8L1587.2 3401.8M1523.1 3420.18L1587.2 3420.18M1523.1 3438.56L1587.2 3438.56M1523.1 3456.94L1587.2 3456.94M1523.1 3475.32L1587.2 3475.32M1523.1 3493.7L1587.2 3493.7M1523.1 3512.08L1587.2 3512.08M1523.1 3530.46L1587.2 3530.46" stroke-width="3"/>
<rect x="1523.1" y="2758.6" width="64.1" height="793.4" stroke-width="4.5"/>
<path d="M1587.2 3527.79L1609.39 3552M1587.2 3489.39L1644.59 3552M1587.2 3450.99L1651.3 3520.92M1587.2 3412.59L1651.3 3482.52M1587.2 3374.19L1651.3 3444.12M1587.2 3335.79L1651.3 3405.72M1587.2 3297.39L1651.3 3367.32M1587.2 3258.99L1651.3 3328.92M1587.2 3220.59L1651.3 3290.52M1587.2 3182.19L1651.3 3252.12M1587.2 3143.79L1651.3 3213.72M1587.2 3105.39L1651.3 3175.32M1587.2 3066.99L1651.3 3136.92M1587.2 3028.59L1651.3 3098.52M1587.2 2991.61L1588.22 2990.5M1587.48 2990.5L1651.3 3060.12M1587.2 3030.01L1623.42 2990.5M1622.68 2990.5L1651.3 3021.72M1587.2 3068.41L1651.3 2998.48M1587.2 3106.81L1651.3 3036.88M1587.2 3145.21L1651.3 3075.28M1587.2 3183.61L1651.3 3113.68M1587.2 3222.01L1651.3 3152.08M1587.2 3260.41L1651.3 3190.48M1587.2 3298.81L1651.3 3228.88M1587.2 3337.21L1651.3 3267.28M1587.2 3375.61L1651.3 3305.68M1587.2 3414.01L1651.3 3344.08M1587.2 3452.41L1651.3 3382.48M1587.2 3490.81L1651.3 3420.88M1587.2 3529.21L1651.3 3459.28M1601.51 3552L1651.3 3497.68M1636.71 3552L1651.3 3536.08" stroke-width="3.5"/>
<rect x="1587.2" y="2990.5" width="64.1" height="561.5" stroke-width="4.5"/>
<rect x="1667" y="2304" width="173" height="94" stroke-width="4"/>
<path d="M1667 2410.34L1668.24 2409M1667 2436.24L1692.04 2409M1667 2462.14L1715.84 2409M1667 2488.04L1739.64 2409M1677.06 2503L1763.44 2409M1700.86 2503L1787.24 2409M1724.66 2503L1811.04 2409M1748.46 2503L1834.84 2409M1772.26 2503L1840 2429.28M1796.06 2503L1840 2455.18M1819.86 2503L1840 2481.08" stroke-width="3.3"/>
<rect x="1667" y="2409" width="173" height="94" stroke-width="4"/>
<path d="M1667 2533.08L1840 2533.08M1667 2551.46L1840 2551.46M1667 2569.84L1840 2569.84M1667 2588.22L1840 2588.22" stroke-width="3"/>
<rect x="1667" y="2514" width="173" height="94" stroke-width="4"/>
<path d="M1667 2696.29L1682.32 2713M1667 2657.89L1717.52 2713M1667 2620.91L1668.75 2619M1667 2619.49L1752.72 2713M1667 2659.31L1703.95 2619M1701.75 2619L1787.92 2713M1667 2697.71L1739.15 2619M1736.95 2619L1823.12 2713M1688.18 2713L1774.35 2619M1772.15 2619L1840 2693.02M1723.38 2713L1809.55 2619M1807.35 2619L1840 2654.62M1758.58 2713L1840 2624.18M1793.78 2713L1840 2662.58M1828.98 2713L1840 2700.98" stroke-width="3.5"/>
<rect x="1667" y="2619" width="173" height="94" stroke-width="4"/>
</g>
<g stroke="#000" stroke-width="6" fill="none" stroke-linecap="butt" shape-rendering="crispEdges">
<path d="M401 2199.1V3568.8M374 3552H1685.9M386 3440H401M374 3327H401M386 3214H401M374 3102H401M386 2990H401M374 2877H401M386 2764H401M374 2652H401M386 2540H401M374 2427H401M386 2314H401M374 2202H401M561 3552V3581.8M722 3552V3568.8M882 3552V3581.8M1042 3552V3568.8M1202 3552V3581.8M1362 3552V3568.8M1523 3552V3581.8M1683 3552V3568.8"/>
</g>
<g fill="#000" font-family='&quot;Liberation Sans&quot;, &quot;DejaVu Sans&quot;, sans-serif'>
<text transform="translate(0 3571.6) scale(0.9184 1)" font-size="77.6" x="348.16">0</text>
<text transform="translate(0 3346.6) scale(0.9184 1)" font-size="77.6" x="218.69 261.84 305 348.16">1000</text>
<text transform="translate(0 3121.6) scale(0.9184 1)" font-size="77.6" x="218.69 261.84 305 348.16">2000</text>
<text transform="translate(0 2896.6) scale(0.9184 1)" font-size="77.6" x="218.69 261.84 305 348.16">3000</text>
<text transform="translate(0 2671.6) scale(0.9184 1)" font-size="77.6" x="218.69 261.84 305 348.16">4000</text>
<text transform="translate(0 2446.6) scale(0.9184 1)" font-size="77.6" x="218.69 261.84 305 348.16">5000</text>
<text transform="translate(0 2221.6) scale(0.9184 1)" font-size="77.6" x="218.69 261.84 305 348.16">6000</text>
<text transform="translate(0 3661.2) scale(0.7083 1)" font-size="79.4" style="filter:drop-shadow(0.56px 0 0 #000) drop-shadow(-0.56px 0 0 #000)" x="744.69 792.75">SF</text>
<text transform="translate(0 3661.2) scale(0.7517 1)" font-size="79.4" style="filter:drop-shadow(0.53px 0 0 #000) drop-shadow(-0.53px 0 0 #000)" x="976.71 1029.39 1077.64 1103.94 1160.99 1218.03 1270.72 1323.4">SF-CHEST</text>
<text transform="translate(0 3661.2) scale(0.8039 1)" font-size="79.4" style="filter:drop-shadow(0.5px 0 0 #000) drop-shadow(-0.5px 0 0 #000)" x="1346.86 1393.87 1441.05 1469.61 1533.35 1591.31">SF-QUB</text>
<text transform="translate(0 3661.2) scale(0.8750 1)" font-size="79.4" style="filter:drop-shadow(0.46px 0 0 #000) drop-shadow(-0.46px 0 0 #000)" x="1570.21 1619.56 1666.41 1694.14 1760.93 1784.26 1850.61">SF-MIMO</text>
<text transform="translate(0 2378) scale(0.8994 1)" font-size="71" x="2065.51 2105.11 2144.31 2185.31 2226.33 2244.23 2283.98 2302.16 2341.18 2355.95">Tannin 0 %</text>
<text transform="translate(0 2482.9) scale(0.8994 1)" font-size="71" x="2065.51 2105.11 2144.31 2185.31 2226.33 2244.23 2283.98 2302.16 2341.18 2355.95">Tannin 5 %</text>
<text transform="translate(0 2587.8) scale(0.9021 1)" font-size="71" x="2059.27 2098.62 2137.57 2178.31 2219.1 2236.85 2276.4 2294.4 2333.71 2372.54 2387.12">Tannin 10 %</text>
<text transform="translate(0 2692.7) scale(0.9021 1)" font-size="71" x="2059.27 2098.62 2137.57 2178.31 2219.1 2236.85 2276.4 2294.4 2333.71 2372.54 2387.12">Tannin 15 %</text>
<text transform="translate(0 3815.7) scale(0.9556 1)" font-size="107.1" x="876.2 965.12 1025.16 1056.84 1115.75 1153.8 1175.64 1232.73 1252.64">Materials</text>
<text transform="translate(136.1 3091.5) rotate(-90) scale(0.8933 1)" font-size="107.9" x="-8.56 86.58 175.77 248.7 285.59 326.79 421.93 499.16 564.43">MOE (MPa)</text>
</g>
<text transform="translate(0 3982.2) scale(0.9500 1)" font-family='&quot;Liberation Serif&quot;, &quot;DejaVu Serif&quot;, serif' font-size="89" fill="#000" x="1209.85 1239.27 1288.84">(<tspan font-weight="bold">b</tspan>)</text>
</svg>
</body>
</html>
